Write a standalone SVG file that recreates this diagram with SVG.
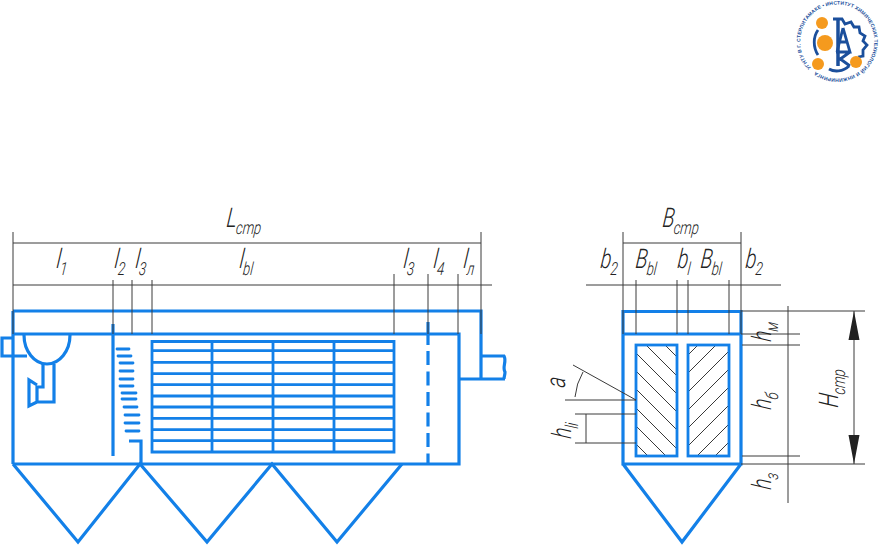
<svg xmlns="http://www.w3.org/2000/svg" width="896" height="546" viewBox="0 0 896 546">
<defs>
<style>
.b{fill:none;stroke:#1380e8;stroke-width:3.200;stroke-linejoin:miter}
.g{fill:none;stroke:#1380e8;stroke-width:2.800}
.sl{fill:none;stroke:#1380e8;stroke-width:2.800;stroke-linecap:round}
.d{fill:none;stroke:#3a3a3a;stroke-width:1}
.h{fill:none;stroke:#222;stroke-width:.9}
text{font-family:Roboto,"Liberation Sans",Arial,sans-serif;font-style:italic;font-weight:300;fill:#222}
.m{font-size:27px}
.s{font-size:18px}
</style>
<clipPath id="cl"><rect x="636" y="345" width="41" height="111"/></clipPath>
<clipPath id="cr"><rect x="688" y="345" width="41" height="111"/></clipPath>
<path id="ring" d="M811.100 67.700A37 37 0 1 1 811.120 67.720"/>
</defs>
<rect width="896" height="546" fill="#fff"/>

<g id="logo">
<text font-size="5" style="font-family:'Liberation Sans',sans-serif;font-style:normal;font-weight:700;fill:#1b4f9c"><textPath href="#ring" textLength="226">УГНТУ В Г. СТЕРЛИТАМАКЕ • ИНСТИТУТ ХИМИЧЕСКИХ ТЕХНОЛОГИЙ И ИНЖИНИРИНГА</textPath></text>
<g fill="none" stroke="#1b4f9c" stroke-width="2.800">
<path d="M833 19H842L845 24L851 22L854 27L859 27L860 33L865 36L863 41L867 45L863 50L863 56L858 57"/>
<path d="M818 30C813 37 813 47 818 55"/>
<path d="M838 19V66" stroke-width="3.500"/>
<path d="M843 28L837 52M843 28L850 52H836M839 42H848M839 60L850 52M839 58L850 66"/>
<path d="M829 69C834 72 843 72 849 66"/>
</g>
<g fill="#f59a1e"><circle cx="822" cy="23" r="6"/><circle cx="825" cy="43" r="8"/><circle cx="818" cy="64" r="6"/><circle cx="856" cy="62" r="6"/></g>
</g>

<g id="furnace-side">
<path class="b" d="M13 311H481V379M13 311V464M13 334H459V464H13"/>
<path class="b" d="M13 464L78 542L140 464L207 542L272 464L337 542L402 464"/>
<path class="b" d="M459 379H505M481 356H504C507 361 502 367 505 372C505 375 504 377 504 379"/>
<path class="b" d="M13 338H2V356H27"/>
<path class="b" d="M24 335A23 29 0 0 0 70 335"/>
<path class="b" d="M54 364V402H37M43 364V387H37V402L29 406V380L37 385"/>
<path class="b" d="M113 324V456"/>
<path class="b" d="M428 322V345"/>
<path class="b" stroke-dasharray="14 6.500" d="M428 351V464"/>
<path class="sl" d="M117 349H129M118 356H131M120 363H133M120 371H133M120 379H133M120 386H133M122 393H136M122 399H136M124 407H137M125 415H139M125 423H139M126 431H139"/>
<path class="b" d="M129 441H141V464"/>
<path class="g" d="M152 341.500H394V452H152ZM152 350.700H394M152 362.300H394M152 373.700H394M152 384.700H394M152 396H394M152 407H394M152 418.300H394M152 429.700H394M152 440.700H394M212 341.500V452M273 341.500V452M334 341.500V452"/>
</g>

<g id="furnace-end">
<path class="b" d="M623 311.500H741V464H623ZM623 334H741M623 464L682 542L741 464"/>
<g clip-path="url(#cl)"><path class="h" d="M640 320L700 380M621 320L700 399M603 320L700 417M585 320L700 435M567 320L700 453M548 320L700 472M530 320L700 490M512 320L700 508M493 320L700 527"/></g>
<g clip-path="url(#cr)"><path class="h" d="M743 300L680 363M761 300L680 381M780 300L680 400M798 300L680 418M816 300L680 436M834 300L680 454M853 300L680 473M871 300L680 491"/></g>
<rect class="g" x="636" y="345" width="41" height="111"/>
<rect class="g" x="688" y="345" width="41" height="111"/>
</g>

<g id="connectors">
<path class="d" d="M13 232V334M481 232V334M13 243H481M13 285H492M113 280V334M132 280V334M152 280V334M394 274V334M428 274V334M458 274V334"/>
<path class="d" d="M623 232V334M741 232V334M623 243H741M586 285H781M636 280V334M677 280V334M688 280V334M729 280V334"/>
<path class="d" d="M788 306V503M741 311H865M741 334H800M742 345H800M742 456H800M741 464H865M854 311V464"/>
<path class="d" d="M565 400H636M575 414H636M575 443H636M586 414V443M636 400L573 365M575 397A61 61 0 0 1 583 372"/>
<path fill="#222" d="M854 311L859.500 340H848.500ZM854 464L859.500 435H848.500Z"/>
</g>

<g id="labels">
<text class="m" transform="translate(226 227) skewX(-6) scale(.74 1)">L<tspan class="s" dy="7">cmp</tspan></text>
<text class="m" transform="translate(56 268) skewX(-6) scale(.74 1)">l<tspan class="s" dy="7">1</tspan></text>
<text class="m" transform="translate(114 268) skewX(-6) scale(.74 1)">l<tspan class="s" dy="7">2</tspan></text>
<text class="m" transform="translate(135 268) skewX(-6) scale(.74 1)">l<tspan class="s" dy="7">3</tspan></text>
<text class="m" transform="translate(239 268) skewX(-6) scale(.74 1)">l<tspan class="s" dy="7">bl</tspan></text>
<text class="m" transform="translate(403 268) skewX(-6) scale(.74 1)">l<tspan class="s" dy="7">3</tspan></text>
<text class="m" transform="translate(433 268) skewX(-6) scale(.74 1)">l<tspan class="s" dy="7">4</tspan></text>
<text class="m" transform="translate(463 268) skewX(-6) scale(.74 1)">l<tspan class="s" dy="7">л</tspan></text>
<text class="m" transform="translate(662 227) skewX(-6) scale(.74 1)">B<tspan class="s" dy="7">cmp</tspan></text>
<text class="m" transform="translate(600 268) skewX(-6) scale(.74 1)">b<tspan class="s" dy="7">2</tspan></text>
<text class="m" transform="translate(635 268) skewX(-6) scale(.74 1)">B<tspan class="s" dy="7">bl</tspan></text>
<text class="m" transform="translate(677 268) skewX(-6) scale(.74 1)">b<tspan class="s" dy="7">l</tspan></text>
<text class="m" transform="translate(700 268) skewX(-6) scale(.74 1)">B<tspan class="s" dy="7">bl</tspan></text>
<text class="m" transform="translate(745 268) skewX(-6) scale(.74 1)">b<tspan class="s" dy="7">2</tspan></text>
<text class="m" transform="translate(771 342) rotate(-90) skewX(-6) scale(.74 1)">h<tspan class="s" dy="7">м</tspan></text>
<text class="m" transform="translate(771 410) rotate(-90) skewX(-6) scale(.74 1)">h<tspan class="s" dy="7">б</tspan></text>
<text class="m" transform="translate(771 490) rotate(-90) skewX(-6) scale(.74 1)">h<tspan class="s" dy="7">з</tspan></text>
<text class="m" transform="translate(838 408) rotate(-90) skewX(-6) scale(.74 1)">H<tspan class="s" dy="7">cmp</tspan></text>
<text class="m" transform="translate(571 439) rotate(-90) skewX(-6) scale(.74 1)">h<tspan class="s" dy="7">li</tspan></text>
<text class="m" transform="translate(565 388) rotate(-90) skewX(-6) scale(.74 1)">a</text>
</g>
</svg>
